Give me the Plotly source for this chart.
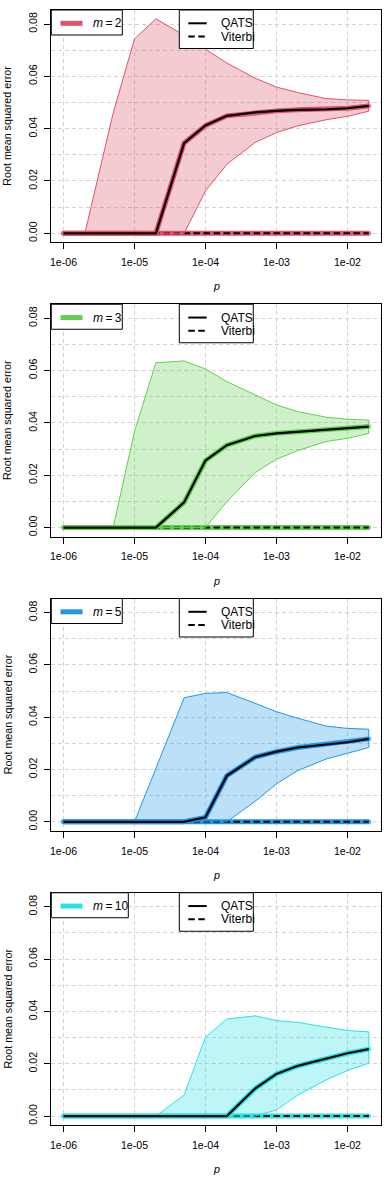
import plotly.graph_objects as go

# ---------------- data ----------------
P = [1e-6, 2e-6, 5e-6, 1e-5, 2e-5, 5e-5, 1e-4, 2e-4, 5e-4, 1e-3, 2e-3, 5e-3, 1e-2, 2e-2]
M_VALUES = [2, 3, 5, 10]
COLORS = ["#DF536B", "#61D04F", "#2297E6", "#28E2E5"]

upper_m2 = [0, 0, 0.0459, 0.0743, 0.0820, 0.0757, 0.0704, 0.0651, 0.0593, 0.0559, 0.0538, 0.0515, 0.0510, 0.0508]
qats_m2 = [0, 0, 0, 0, 0, 0.0345, 0.0412, 0.0449, 0.0462, 0.0468, 0.0472, 0.0474, 0.0478, 0.0487]
lower_m2 = [0, 0, 0, 0, 0, 0, 0.0162, 0.0264, 0.0347, 0.0385, 0.0411, 0.0434, 0.0447, 0.0467]

upper_m3 = [0, 0, 0, 0.0367, 0.0630, 0.0637, 0.0606, 0.0558, 0.0507, 0.0469, 0.0443, 0.0422, 0.0414, 0.0411]
qats_m3 = [0, 0, 0, 0, 0, 0.0096, 0.0256, 0.0315, 0.0350, 0.0360, 0.0366, 0.0372, 0.0378, 0.0386]
lower_m3 = [0, 0, 0, 0, 0, 0, 0, 0.0099, 0.0210, 0.0261, 0.0294, 0.0329, 0.0341, 0.0360]

upper_m5 = [0, 0, 0, 0, 0.0204, 0.0474, 0.0491, 0.0494, 0.0453, 0.0421, 0.0396, 0.0366, 0.0357, 0.0354]
qats_m5 = [0, 0, 0, 0, 0, 0, 0.0017, 0.0176, 0.0247, 0.0268, 0.0284, 0.0296, 0.0304, 0.0317]
lower_m5 = [0, 0, 0, 0, 0, 0, 0, 0, 0.0078, 0.0145, 0.0196, 0.0240, 0.0262, 0.0284]

upper_m10 = [0, 0, 0, 0, 0, 0.0080, 0.0302, 0.0371, 0.0383, 0.0365, 0.0358, 0.0340, 0.0327, 0.0322]
qats_m10 = [0, 0, 0, 0, 0, 0, 0, 0, 0.0105, 0.0161, 0.0192, 0.0221, 0.0240, 0.0256]
lower_m10 = [0, 0, 0, 0, 0, 0, 0, 0, 0, 0.0023, 0.0080, 0.0138, 0.0174, 0.0202]

viterbi = [0] * len(P)

UPPER = [upper_m2, upper_m3, upper_m5, upper_m10]
QATS = [qats_m2, qats_m3, qats_m5, qats_m10]
LOWER = [lower_m2, lower_m3, lower_m5, lower_m10]

X_TICKS = [1e-6, 1e-5, 1e-4, 1e-3, 1e-2]
X_TICKTEXT = ["1e-06", "1e-05", "1e-04", "1e-03", "1e-02"]

# ---------------- layout geometry (pixels) ----------------
W, H = 392, 1177
BOX_L, BOX_R = 51.3, 381.0
PANEL_TOP0, PANEL_STEP, BOX_H = 10.0, 294.25, 232.3
FONT = "Liberation Sans, Arial, Helvetica, sans-serif"
THICK = 5

# round "caps" at both ends of the thick coloured lines
cap_sizes = [THICK] + [0] * (len(P) - 2) + [THICK]


def fx(px):
    return px / W


def fy(py):
    return 1 - py / H


def rgba(hexcol, a):
    h = hexcol.lstrip("#")
    r, g, b = int(h[0:2], 16), int(h[2:4], 16), int(h[4:6], 16)
    return f"rgba({r},{g},{b},{a})"


fig = go.Figure()
shapes = []
annotations = []
layout = {}

for i, (m, col) in enumerate(zip(M_VALUES, COLORS)):
    k = "" if i == 0 else str(i + 1)
    xa, ya = "x" + k, "y" + k
    top = PANEL_TOP0 + i * PANEL_STEP
    bot = top + BOX_H

    # Viterbi: thick coloured then black dashed
    fig.add_trace(go.Scatter(x=P, y=viterbi, mode="lines+markers", xaxis=xa, yaxis=ya,
                             line=dict(color=col, width=THICK),
                             marker=dict(size=cap_sizes, color=col, line=dict(width=0)),
                             showlegend=False, hoverinfo="skip"))
    fig.add_trace(go.Scatter(x=P, y=viterbi, mode="lines", xaxis=xa, yaxis=ya,
                             line=dict(color="black", width=2, dash="6.5px,3.5px"),
                             showlegend=False, hoverinfo="skip"))
    # QATS band
    fig.add_trace(go.Scatter(x=P + P[::-1], y=UPPER[i] + LOWER[i][::-1], mode="lines",
                             xaxis=xa, yaxis=ya, fill="toself", fillcolor=rgba(col, 0.3),
                             line=dict(color=col, width=1), showlegend=False, hoverinfo="skip"))
    # QATS: thick coloured then black
    fig.add_trace(go.Scatter(x=P, y=QATS[i], mode="lines+markers", xaxis=xa, yaxis=ya,
                             line=dict(color=col, width=THICK),
                             marker=dict(size=cap_sizes, color=col, line=dict(width=0)),
                             showlegend=False, hoverinfo="skip"))
    fig.add_trace(go.Scatter(x=P, y=QATS[i], mode="lines", xaxis=xa, yaxis=ya,
                             line=dict(color="black", width=2.2), showlegend=False, hoverinfo="skip"))

    grid = dict(gridcolor="#D3D3D3", griddash="4px,3px", gridwidth=1)
    layout["xaxis" + k] = dict(
        type="log", range=[-6.172, -1.527], domain=[fx(BOX_L), fx(BOX_R)], anchor=ya,
        automargin=False,
        tickmode="array", tickvals=X_TICKS, ticktext=X_TICKTEXT,
        ticks="outside", ticklen=6, tickwidth=1, tickcolor="black",
        showline=True, mirror=True, linecolor="black", linewidth=1,
        showgrid=True, zeroline=False, ticklabelstandoff=4,
        tickfont=dict(family=FONT, size=10.6, color="black"), **grid)
    layout["yaxis" + k] = dict(
        range=[-0.00344, 0.08536], domain=[fy(bot), fy(top)], anchor=xa,
        automargin=False,
        tick0=0, dtick=0.02, tickformat=".2f", tickangle=-90,
        ticks="outside", ticklen=6, tickwidth=1, tickcolor="black",
        showline=True, mirror=True, linecolor="black", linewidth=1,
        showgrid=True, zeroline=False, ticklabelstandoff=3,
        minor=dict(dtick=0.01, tick0=0, showgrid=True, ticks="", **grid),
        tickfont=dict(family=FONT, size=10.6, color="black"), **grid)

    # axis titles
    annotations.append(dict(x=fx(7.5), y=fy((top + bot) / 2), xref="paper", yref="paper",
                            text="Root mean squared error", textangle=-90, showarrow=False,
                            font=dict(family=FONT, size=10.7, color="black"),
                            xanchor="center", yanchor="middle"))
    annotations.append(dict(x=fx((BOX_L + BOX_R) / 2), y=fy(bot + 44), xref="paper", yref="paper",
                            text="<i>p</i>", showarrow=False,
                            font=dict(family=FONT, size=10.7, color="black"),
                            xanchor="center", yanchor="middle"))

    # legend 1 (m)
    l1_right = 122.3 if m < 10 else 128.3
    shapes.append(dict(type="rect", xref="paper", yref="paper", x0=fx(BOX_L), x1=fx(l1_right),
                       y0=fy(top + 25), y1=fy(top), fillcolor="white", line=dict(color="black", width=1),
                       layer="above"))
    shapes.append(dict(type="line", xref="paper", yref="paper", x0=fx(60.5), x1=fx(82.5),
                       y0=fy(top + 13.3), y1=fy(top + 13.3), line=dict(color=col, width=5), layer="above"))
    annotations.append(dict(x=fx(90.7), y=fy(top + 13.3), xref="paper", yref="paper",
                            text=f"<i>m</i>\u2009=\u2009{m}", showarrow=False,
                            font=dict(family=FONT, size=12, color="black"),
                            xanchor="left", yanchor="middle"))

    # legend 2 (methods)
    shapes.append(dict(type="rect", xref="paper", yref="paper", x0=fx(179.3), x1=fx(253.3),
                       y0=fy(top + 38.5), y1=fy(top), fillcolor="white", line=dict(color="black", width=1),
                       layer="above"))
    shapes.append(dict(type="line", xref="paper", yref="paper", x0=fx(188.3), x1=fx(206.7),
                       y0=fy(top + 13.3), y1=fy(top + 13.3), line=dict(color="black", width=2), layer="above"))
    shapes.append(dict(type="line", xref="paper", yref="paper", x0=fx(188.3), x1=fx(206.7),
                       y0=fy(top + 26.5), y1=fy(top + 26.5),
                       line=dict(color="black", width=2, dash="6.5px,3.5px"), layer="above"))
    annotations.append(dict(x=fx(218.5), y=fy(top + 13.3), xref="paper", yref="paper",
                            text="QATS", showarrow=False, font=dict(family=FONT, size=12, color="black"),
                            xanchor="left", yanchor="middle"))
    annotations.append(dict(x=fx(218.5), y=fy(top + 26.5), xref="paper", yref="paper",
                            text="Viterbi", showarrow=False, font=dict(family=FONT, size=12, color="black"),
                            xanchor="left", yanchor="middle"))

fig.update_layout(
    width=W, height=H, margin=dict(l=0, r=0, t=0, b=0, autoexpand=False),
    paper_bgcolor="white", plot_bgcolor="white",
    font=dict(family=FONT, color="black"),
    shapes=shapes, annotations=annotations, showlegend=False,
    **layout)

fig.write_html("out.html", config={"displayModeBar": False},
               post_script="document.body.style.margin='0px';document.body.style.padding='0px';")
